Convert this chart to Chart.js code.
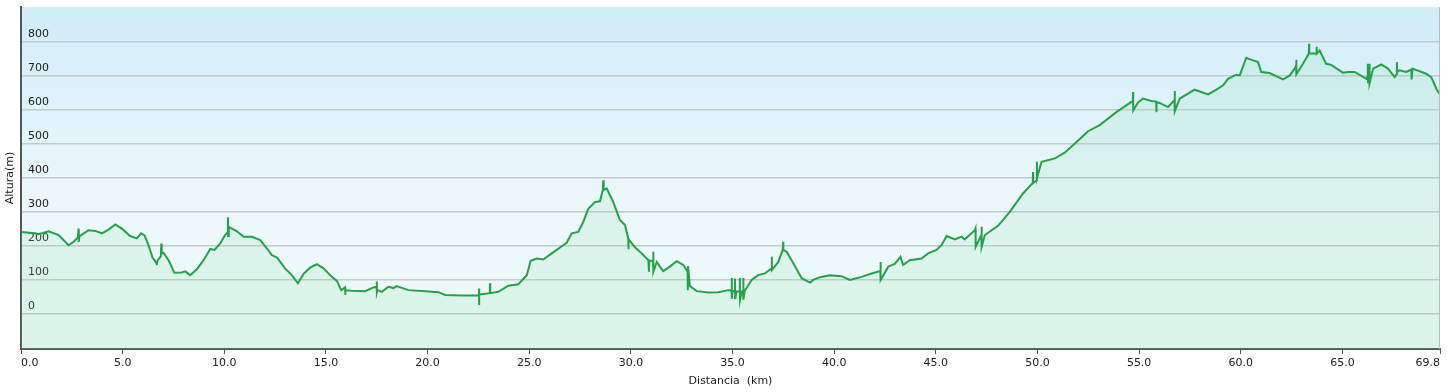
<!DOCTYPE html>
<html lang="es">
<head>
  <meta charset="UTF-8">
  <title>Perfil</title>
  <script src="https://cdn.jsdelivr.net/npm/chart.js"></script>
  <style>
    html, body { margin: 0; padding: 0; background: #fff; }
  </style>
</head>
<body>

  <canvas id="perfilChart" width="1447" height="392"></canvas>

  <script>
    const distKm = [
      0.00, 0.70, 0.87, 1.36, 1.85, 2.34, 2.59, 2.80, 2.83, 2.84, 2.87, 3.32, 3.65, 3.98, 4.31, 4.64, 4.96,
      5.37, 5.70, 5.91, 6.08, 6.27, 6.47, 6.66, 6.68, 6.72, 6.80, 6.88, 6.90, 6.92, 7.01, 7.26, 7.54, 7.91,
      8.08, 8.32, 8.65, 8.98, 9.31, 9.52, 9.80, 10.04, 10.17, 10.18, 10.19, 10.22, 10.62, 10.95, 11.36, 11.77,
      12.09, 12.34, 12.59, 12.99, 13.32, 13.62, 13.89, 14.22, 14.55, 14.88, 15.29, 15.54, 15.75, 15.94, 15.95,
      15.96, 16.27, 16.93, 17.34, 17.49, 17.50, 17.51, 17.53, 17.75, 18.07, 18.32, 18.48, 19.06, 19.88, 20.53,
      20.86, 21.68, 22.34, 22.52, 22.53, 22.535, 22.54, 23.06, 23.07, 23.08, 23.48, 23.97, 24.46, 24.88, 25.07,
      25.37, 25.69, 26.11, 26.60, 26.84, 27.09, 27.41, 27.66, 27.91, 28.24, 28.48, 28.62, 28.64, 28.66, 28.81,
      29.13, 29.46, 29.71, 29.87, 29.88, 29.89, 30.20, 30.53, 30.86, 30.89, 30.90, 31.09, 31.10, 31.11, 31.27,
      31.59, 31.92, 32.25, 32.58, 32.79, 32.80, 32.81, 32.90, 33.24, 33.81, 34.30, 34.79, 34.95, 34.96, 34.97,
      35.00, 35.11, 35.12, 35.13, 35.20, 35.35, 35.36, 35.37, 35.45, 35.52, 35.53, 35.54, 35.60, 35.94, 36.26,
      36.59, 36.92, 36.93, 36.94, 37.25, 37.47, 37.49, 37.50, 37.66, 37.99, 38.40, 38.81, 38.97, 39.30, 39.79,
      40.36, 40.77, 41.35, 41.84, 42.27, 42.28, 42.29, 42.66, 42.98, 43.26, 43.39, 43.72, 44.30, 44.62, 45.03,
      45.28, 45.53, 45.94, 46.26, 46.42, 46.92, 46.95, 46.96, 47.24, 47.25, 47.26, 47.41, 48.06, 48.64, 49.29,
      49.77, 49.78, 49.79, 49.96, 49.97, 49.98, 50.20, 50.86, 51.34, 52.00, 52.49, 53.06, 53.88, 54.69, 54.70,
      54.71, 54.94, 55.19, 55.60, 55.84, 55.85, 55.86, 56.01, 56.42, 56.74, 56.75, 56.76, 57.00, 57.73, 58.39,
      58.80, 59.13, 59.37, 59.78, 59.95, 60.27, 60.60, 60.85, 61.01, 61.42, 62.08, 62.41, 62.65, 62.72, 62.73,
      62.74, 63.06, 63.35, 63.36, 63.37, 63.72, 63.73, 63.74, 63.88, 64.20, 64.45, 65.02, 65.27, 65.60, 66.18,
      66.24, 66.25, 66.26, 66.32, 66.33, 66.34, 66.51, 66.91, 67.24, 67.57, 67.67, 67.68, 67.69, 67.81, 68.14,
      68.39, 68.40, 68.45, 69.12, 69.37, 69.62, 69.75, 69.80
    ];
    const altM = [
      241, 237, 234, 243, 232, 202, 212, 225, 251, 212, 228, 246, 244, 237, 248, 263, 251,
      229, 222, 237, 231, 202, 166, 150, 144, 158, 163, 170, 207, 178, 180, 158, 121, 122,
      125, 114, 131, 158, 191, 188, 207, 232, 240, 284, 229, 256, 243, 227, 227, 217,
      193, 173, 166, 134, 114, 90, 117, 136, 146, 134, 109, 97, 70, 78, 56,
      70, 68, 67, 78, 80, 95, 64, 70, 65, 80, 76, 82, 70, 67, 64,
      56, 54, 54, 55, 75, 26, 57, 61, 90, 61, 65, 83, 87, 114, 156,
      163, 160, 178, 199, 209, 237, 241, 271, 310, 329, 331, 364, 393, 364, 369,
      329, 276, 261, 222, 190, 220, 196, 178, 158, 124, 158, 155, 183, 124, 153,
      126, 139, 155, 144, 124, 70, 141, 82, 67, 63, 64, 70, 70, 106, 45,
      68, 66, 104, 44, 66, 66, 106, 42, 66, 66, 106, 42, 68, 100, 114,
      119, 134, 168, 129, 153, 188, 212, 188, 183, 149, 105, 92, 100, 108, 114,
      111, 100, 109, 119, 126, 153, 100, 139, 147, 168, 144, 158, 163, 178, 188,
      202, 229, 219, 227, 219, 246, 251, 197, 232, 256, 197, 232, 259, 300, 354,
      385, 417, 385, 393, 447, 400, 447, 457, 474, 510, 537, 555, 593, 626, 652,
      598, 621, 633, 626, 624, 593, 622, 620, 608, 628, 655, 596, 633, 659, 645,
      659, 672, 691, 703, 701, 753, 745, 740, 711, 708, 689, 701, 721, 730, 747,
      704, 735, 765, 794, 765, 765, 785, 765, 774, 735, 732, 709, 711, 711, 691,
      700, 735, 678, 700, 735, 678, 721, 733, 721, 696, 705, 740, 710, 716, 711,
      718, 689, 721, 706, 696, 662, 649, 649
    ];
    const xTicks = [0, 5, 10, 15, 20, 25, 30, 35, 40, 45, 50, 55, 60, 65, 69.8];
    const yTicks = [0, 100, 200, 300, 400, 500, 600, 700, 800];

    const fuente = { family: 'DejaVu Sans', size: 11 };

    // fondo degradado del area del grafico + borde derecho
    const fondoPlugin = {
      id: 'fondo',
      beforeDraw(chart) {
        const a = chart.chartArea;
        const c = chart.ctx;
        const g = c.createLinearGradient(0, a.top, 0, a.bottom);
        g.addColorStop(0, 'rgb(208,237,249)');
        g.addColorStop(0.55, 'rgb(236,247,252)');
        g.addColorStop(1, 'rgb(238,250,246)');
        c.save();
        c.fillStyle = g;
        c.fillRect(a.left, a.top, a.right - a.left, a.bottom - a.top);
        c.restore();
      },
      afterDraw(chart) {
        const a = chart.chartArea;
        const c = chart.ctx;
        c.save();
        c.strokeStyle = '#b4bdc2';
        c.lineWidth = 1;
        c.beginPath();
        c.moveTo(a.right - 0.5, a.top);
        c.lineTo(a.right - 0.5, a.bottom);
        c.stroke();
        c.restore();
      }
    };

    const puntos = distKm.map((d, i) => ({ x: d, y: altM[i] }));

    const ctx = document.getElementById('perfilChart').getContext('2d');
    new Chart(ctx, {
      type: 'line',
      data: {
        datasets: [{
          data: puntos,
          borderColor: '#27a04b',
          borderWidth: 2,
          backgroundColor: 'rgba(130,225,160,0.16)',
          fill: 'start',
          pointRadius: 0,
          tension: 0
        }]
      },
      options: {
        responsive: false,
        animation: false,
        layout: { padding: { top: 0, right: 7, left: 0, bottom: 0 } },
        plugins: {
          legend: { display: false },
          tooltip: { enabled: false }
        },
        scales: {
          x: {
            type: 'linear',
            min: 0,
            max: 69.8,
            afterBuildTicks: axis => { axis.ticks = xTicks.map(v => ({ value: v })); },
            afterFit: axis => { axis.height = 43; },
            ticks: {
              align: 'inner',
              autoSkip: false,
              maxRotation: 0,
              padding: 3,
              color: '#222',
              font: fuente,
              callback: v => Number(v).toFixed(1)
            },
            grid: { drawOnChartArea: false, drawTicks: true, tickLength: 5, color: '#555', lineWidth: 1 },
            border: { color: '#555', width: 2 },
            title: { display: true, text: 'Distancia  (km)', color: '#222', font: fuente, padding: { top: 4, bottom: 4 } }
          },
          y: {
            min: -103,
            max: 902,
            afterBuildTicks: axis => { axis.ticks = yTicks.map(v => ({ value: v })); },
            afterFit: axis => {
              axis.width = 21;
              axis.paddingTop = 7;
              axis.paddingBottom = 0;
            },
            ticks: {
              mirror: true,
              padding: 7,
              labelOffset: -8,
              color: '#222',
              font: fuente
            },
            grid: { drawTicks: false, color: '#c3cbcf', lineWidth: 1.5 },
            border: { color: '#555', width: 2 },
            title: { display: true, text: 'Altura(m)', color: '#222', font: fuente, padding: { top: 4, bottom: 4 } }
          }
        }
      },
      plugins: [fondoPlugin]
    });
  </script>

</body>
</html>
